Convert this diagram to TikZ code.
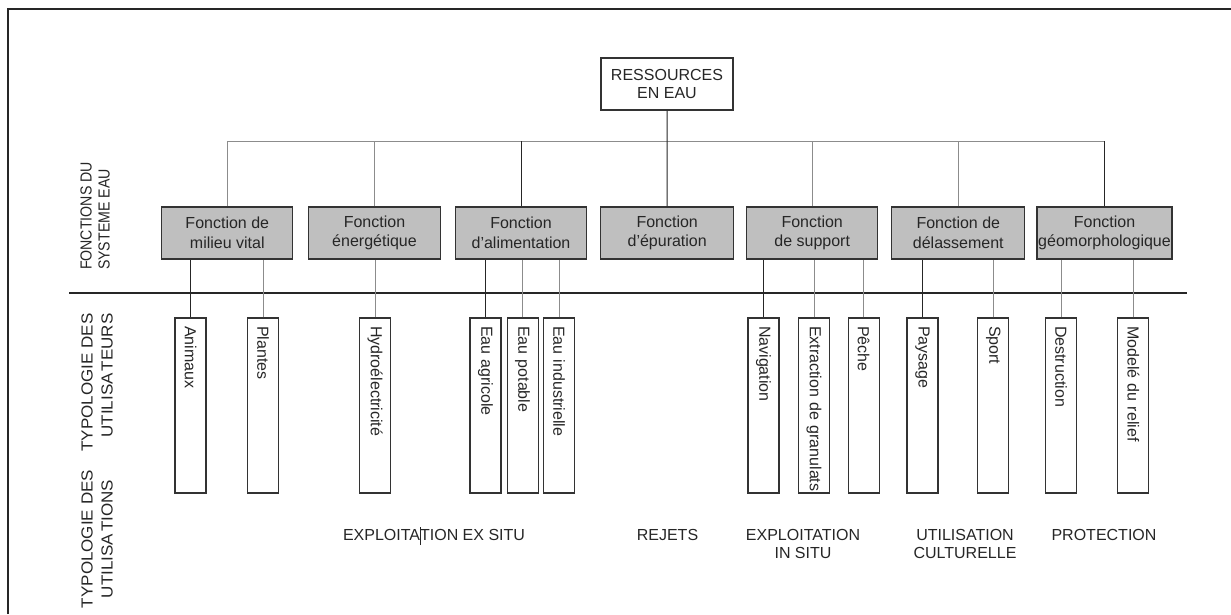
\documentclass[tikz,border=0pt]{standalone}
\usepackage{fontspec}
\setmainfont{Liberation Sans}
\usepackage{graphicx}
\newcommand{\hsq}[2]{\scalebox{#1}[1]{#2}}
\begin{document}
\begin{tikzpicture}[x=1pt,y=-1pt,
  every node/.style={font=\fontsize{16}{19.5}\selectfont, text=black!85},
  fbox/.style={draw=black!80, line width=1.1pt, fill=black!25, minimum width=132pt, minimum height=52pt, inner sep=0pt, align=center},
  rbox/.style={draw=black!80, line width=1.1pt, fill=white, minimum width=132pt, minimum height=52pt, inner sep=0pt, align=center, font=\fontsize{16}{18.5}\selectfont},
  ubox/.style={draw=black!80, line width=1.1pt, rotate=-90, minimum width=175pt, minimum height=31pt, inner sep=0pt, text width=175pt, align=left, execute at begin node={\hspace*{8pt}}},
  conn/.style={draw=black!45, line width=1pt},
  connd/.style={draw=black!85, line width=1pt},
  sepline/.style={draw=black!85, line width=1.2pt},
  vlab/.style={rotate=90, inner sep=0pt},
  blab/.style={anchor=base, align=center, inner sep=0pt, font=\fontsize{16}{18.5}\selectfont}]
\useasboundingbox (0,0) rectangle (1231,614);
% frame
\coordinate (frBL) at (8,614);
\coordinate (frTL) at (8,9);
\coordinate (frTR) at (1231,9);
\draw[line width=1.2pt, black!85] (frBL) -- (frTL) -- (frTR);
% separator
\coordinate (sepL) at (69,293);
\coordinate (sepR) at (1187,293);
\draw[sepline] (sepL) -- (sepR);

% root
\node[rbox] (root) at (667,84) {RESSOURCES\\EN EAU};
% function boxes
\node[fbox, minimum width=131pt] (f1) at (227.3,233) {Fonction de\\milieu vital};
\node[fbox] (f2) at (374.5,233) {Fonction\\énergétique};
\node[fbox, minimum width=131pt] (f3) at (521,233) {Fonction\\d'alimentation};
\node[fbox, minimum width=133pt] (f4) at (667.2,233) {Fonction\\d'épuration};
\node[fbox, minimum width=131pt] (f5) at (812.2,233) {Fonction\\de support};
\node[fbox, minimum width=133pt] (f6) at (958.3,233) {Fonction de\\délassement};
\node[fbox, minimum width=135pt] (f7) at (1104.5,233) {Fonction\\géomorphologique};

% bus
\coordinate (bus) at (0,141);
\draw[conn] (f1.north |- bus) -- (f7.north |- bus);
\draw[connd] (root.south) -- (f4.north);
\draw[conn] (f1.north) -- (f1.north |- bus);
\draw[conn] (f2.north) -- (f2.north |- bus);
\draw[connd] (f3.north) -- (f3.north |- bus);
\draw[conn] (f5.north) -- (f5.north |- bus);
\draw[conn] (f6.north) -- (f6.north |- bus);
\draw[connd] (f7.north) -- (f7.north |- bus);

% user boxes
\node[ubox] (u1) at (190.5,405.5) {Animaux};
\node[ubox] (u2) at (263,405.5) {Plantes};
\node[ubox] (u3) at (375,405.5) {Hydroélectricité};
\node[ubox] (u4) at (485.5,405.5) {Eau agricole};
\node[ubox] (u5) at (522.6,405.5) {Eau potable};
\node[ubox] (u6) at (559,405.5) {Eau industrielle};
\node[ubox] (u7) at (763.5,405.5) {Navigation};
\node[ubox] (u8) at (814,405.5) {Extraction de granulats};
\node[ubox] (u9) at (863.6,405.5) {Pêche};
\node[ubox] (u10) at (922.5,405.5) {Paysage};
\node[ubox] (u11) at (993.3,405.5) {Sport};
\node[ubox] (u12) at (1061,405.5) {Destruction};
\node[ubox] (u13) at (1133.3,405.5) {Modelé du relief};

% lower connectors
\draw[connd] (u1.west) -- (u1.west |- f1.south);
\draw[conn] (u2.west) -- (u2.west |- f1.south);
\draw[conn] (u3.west) -- (u3.west |- f2.south);
\draw[connd] (u4.west) -- (u4.west |- f3.south);
\draw[conn] (u5.west) -- (u5.west |- f3.south);
\draw[conn] (u6.west) -- (u6.west |- f3.south);
\draw[connd] (u7.west) -- (u7.west |- f5.south);
\draw[conn] (u8.west) -- (u8.west |- f5.south);
\draw[conn] (u9.west) -- (u9.west |- f5.south);
\draw[connd] (u10.west) -- (u10.west |- f6.south);
\draw[conn] (u11.west) -- (u11.west |- f6.south);
\draw[conn] (u12.west) -- (u12.west |- f7.south);
\draw[conn] (u13.west) -- (u13.west |- f7.south);

% side labels
\node[vlab, align=left, font=\fontsize{16}{18}\selectfont] (lf) at (95,216)
  {\hsq{0.885}{FONCTIONS DU}\\\hsq{0.885}{SYSTEME EAU}};
\node[vlab, align=right, font=\fontsize{16}{20}\selectfont] (lu) at (97,382.5)
  {\hsq{1.063}{TYPOLOGIE DES}\\\hsq{1.063}{UTILISA\kern2pt TEURS}};
\node[vlab, align=center, font=\fontsize{16}{20}\selectfont] (ln) at (97,539)
  {\hsq{1.063}{TYPOLOGIE DES}\\\hsq{1.063}{UTILISA\kern2pt TIONS}};

% bottom labels
\node[blab] (b1) at (434,540) {EXPLOITA\makebox[0pt]{\rule[-5pt]{0.8pt}{18pt}}TION EX SITU};
\node[blab] (b2) at (667.5,540) {REJETS};
\node[blab] (b3) at (803,558.5) {EXPLOITATION\\IN SITU};
\node[blab] (b4) at (965,558.5) {UTILISATION\\CULTURELLE};
\node[blab] (b5) at (1104,540) {PROTECTION};
\end{tikzpicture}
\end{document}
